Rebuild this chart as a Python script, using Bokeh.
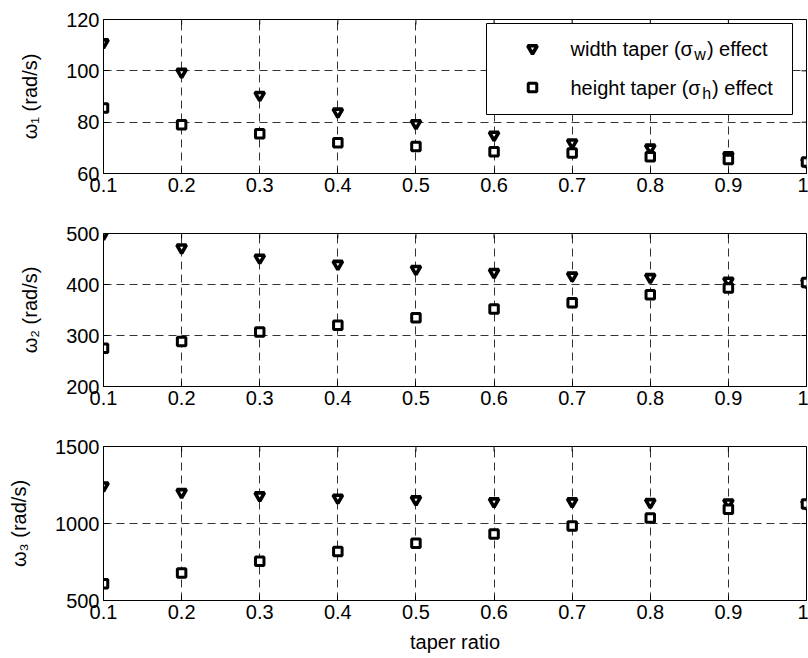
from bokeh.plotting import figure
from bokeh.layouts import column
from bokeh.models import FixedTicker, Label, BoxAnnotation
from bokeh.embed import file_html
from bokeh.resources import INLINE

# ---------------- data ----------------
taper = [0.1, 0.2, 0.3, 0.4, 0.5, 0.6, 0.7, 0.8, 0.9, 1.0]
xticks = [0.1, 0.2, 0.3, 0.4, 0.5, 0.6, 0.7, 0.8, 0.9, 1.0]
xtick_labels = ["0.1", "0.2", "0.3", "0.4", "0.5", "0.6", "0.7", "0.8", "0.9", "1"]

w1_width = [111.0, 99.5, 90.5, 84.0, 79.5, 75.0, 72.0, 70.0, 67.0, 64.5]
w1_height = [85.5, 79.0, 75.5, 72.0, 70.5, 68.5, 68.0, 66.5, 65.5, 64.5]
w2_width = [499, 472, 452, 440, 430, 424, 417, 414, 407, 404]
w2_height = [275, 288, 307, 320, 335, 352, 364, 380, 393, 404]
w3_width = [1245, 1202, 1181, 1166, 1155, 1142, 1142, 1137, 1135, 1127]
w3_height = [608, 679, 755, 818, 871, 932, 984, 1036, 1092, 1127]

yticks1 = [60, 80, 100, 120]
yticks2 = [200, 300, 400, 500]
yticks3 = [500, 1000, 1500]

legend_width_label = ["width taper (σ", "w", ") effect"]
legend_height_label = ["height taper (σ", "h", ") effect"]

FONT = "Liberation Sans"
FS = "20px"
FRAME_W = 703
TICK = 5

# Arial/Liberation advance widths (em/1000) for legend text layout
ADV = {"w": 722, "i": 222, "d": 556, "t": 278, "h": 556, " ": 278, "a": 556,
       "p": 556, "e": 556, "r": 333, "(": 333, ")": 333, "σ": 640, "g": 556,
       "f": 278, "c": 500}


def text_w(s, size):
    return sum(ADV.get(ch, 556) for ch in s) / 1000.0 * size


TRI = dict(marker="inverted_triangle", size=9.5, fill_color="white",
           line_color="black", line_width=3.6)
SQ = dict(marker="square", size=8.5, fill_color="white",
          line_color="black", line_width=3)


def make_panel(yw, yh, yrange, yticks, ylabel, frame_h, top, bottom, xlabel=None):
    p = figure(frame_width=FRAME_W, frame_height=frame_h,
               x_range=(0.1, 1.0), y_range=yrange,
               output_backend="svg", toolbar_location=None,
               min_border_left=103, min_border_right=2,
               min_border_top=top, min_border_bottom=bottom,
               background_fill_color="white", border_fill_color="white")
    xa = p.below[0]
    ya = p.left[0]
    xa.ticker = FixedTicker(ticks=xticks)
    xa.major_label_overrides = {t: l for t, l in zip(xticks, xtick_labels)}
    ya.ticker = FixedTicker(ticks=yticks)
    for ax in (xa, ya):
        ax.major_tick_in = TICK
        ax.major_tick_out = 0
        ax.minor_tick_line_color = None
        ax.major_label_text_font = FONT
        ax.major_label_text_font_size = FS
        ax.major_label_text_color = "black"
        ax.major_label_standoff = 4
        ax.axis_line_color = "black"
        ax.major_tick_line_color = "black"
        ax.axis_label_text_font = FONT
        ax.axis_label_text_font_size = FS
        ax.axis_label_text_font_style = "normal"
        ax.axis_label_text_color = "black"
    ya.axis_label = ylabel
    ya.axis_label_standoff = 22
    if xlabel:
        xa.axis_label = xlabel
        xa.axis_label_standoff = 9
    p.grid.grid_line_color = "#333333"
    p.grid.grid_line_dash = "8 5"
    p.grid.grid_line_width = 1
    p.outline_line_color = "black"
    p.outline_line_alpha = 1
    p.outline_line_width = 1

    # mirrored inward ticks on the top and right edges of the box
    xs, xe = 0.1, 1.0
    ys, ye = yrange
    ddx = (xe - xs) / FRAME_W
    ddy = (ye - ys) / frame_h
    p.segment(x0=xticks, y0=[ye] * len(xticks), x1=xticks,
              y1=[ye - TICK * ddy] * len(xticks), line_color="black", line_width=1)
    p.segment(x0=[xe] * len(yticks), y0=yticks, x1=[xe - TICK * ddx] * len(yticks),
              y1=yticks, line_color="black", line_width=1)

    p.scatter(taper, yw, **TRI)
    p.scatter(taper, yh, **SQ)
    return p


p1 = make_panel(w1_width, w1_height, (60, 120), yticks1, "ω₁ (rad/s)", 154, 19, 40)
p2 = make_panel(w2_width, w2_height, (200, 500), yticks2, "ω₂ (rad/s)", 153, 20, 40)
p3 = make_panel(w3_width, w3_height, (500, 1500), yticks3, "ω₃ (rad/s)", 154, 20, 58,
                xlabel="taper ratio")

# ---------------- legend (panel 1, top right) ----------------
x0, x1 = 0.1, 1.0
y0, y1 = 60.0, 120.0
dx = (x1 - x0) / FRAME_W
dy = (y1 - y0) / 154.0

box = BoxAnnotation(left=x1 - 320 * dx, right=x1 - 14 * dx,
                    top=y1 - 4 * dy, bottom=y1 - 95 * dy,
                    fill_color="white", fill_alpha=1.0,
                    line_color="black", line_alpha=1.0, line_width=1,
                    line_dash="solid")
p1.add_layout(box)

p1.scatter([x1 - 274 * dx], [y1 - 29 * dy], level="overlay", **TRI)
p1.scatter([x1 - 274 * dx], [y1 - 68 * dy], level="overlay", **SQ)


def legend_text(parts, yoff):
    main, sub, rest = parts
    xoff = -236
    p1.add_layout(Label(x=x1, y=y1, x_offset=xoff, y_offset=yoff, text=main,
                        text_baseline="middle", text_font=FONT, text_font_size=FS,
                        text_color="black"))
    xoff2 = xoff + text_w(main, 20) + 1
    p1.add_layout(Label(x=x1, y=y1, x_offset=xoff2, y_offset=yoff - 6, text=sub,
                        text_baseline="middle", text_font=FONT, text_font_size="16px",
                        text_color="black"))
    xoff3 = xoff2 + text_w(sub, 16) + 1
    p1.add_layout(Label(x=x1, y=y1, x_offset=xoff3, y_offset=yoff, text=rest,
                        text_baseline="middle", text_font=FONT, text_font_size=FS,
                        text_color="black"))


legend_text(legend_width_label, -29)
legend_text(legend_height_label, -68)

layout = column(p1, p2, p3, spacing=0)
open("out.html", "w").write(file_html(layout, INLINE))
